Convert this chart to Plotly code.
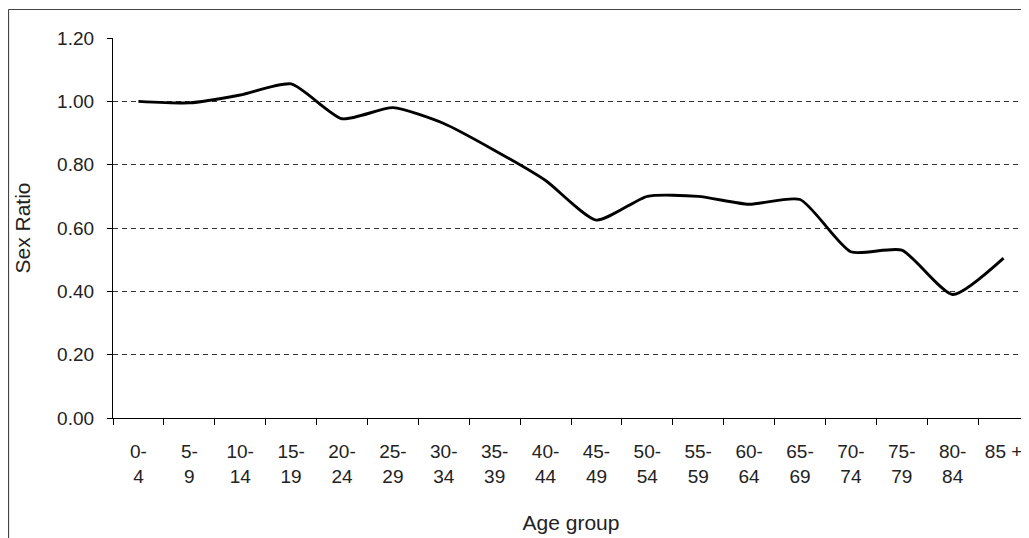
import plotly.graph_objects as go

age_groups = ["0-<br>4", "5-<br>9", "10-<br>14", "15-<br>19", "20-<br>24", "25-<br>29",
              "30-<br>34", "35-<br>39", "40-<br>44", "45-<br>49", "50-<br>54", "55-<br>59",
              "60-<br>64", "65-<br>69", "70-<br>74", "75-<br>79", "80-<br>84", "85 +"]
sex_ratio = [1.00, 0.995, 1.02, 1.055, 0.945, 0.98, 0.93, 0.845, 0.75, 0.625,
             0.70, 0.70, 0.675, 0.69, 0.525, 0.53, 0.39, 0.505]
y_ticks = [0.0, 0.2, 0.4, 0.6, 0.8, 1.0, 1.2]

font_family = "Liberation Sans, Arial, sans-serif"
text_color = "#222222"

# page body has an 8px margin, so the figure is placed 8px in from the window edge
L, R, T, B = 105, 0, 30, 120
W, H = 1021, 530
pw, ph = W - L - R, H - T - B

fig = go.Figure()
fig.add_trace(go.Scatter(
    x=age_groups, y=sex_ratio, mode="lines",
    line=dict(color="black", width=2.9, shape="spline", smoothing=0.6),
    hoverinfo="skip", showlegend=False,
))

bx = (0.5 - L) / pw
by = (H - B - 1.5) / ph
fig.update_layout(
    width=W, height=H,
    margin=dict(l=L, r=R, t=T, b=B, autoexpand=False),
    paper_bgcolor="white", plot_bgcolor="white",
    font=dict(family=font_family, size=19, color=text_color),
    showlegend=False,
    shapes=[
        dict(type="line", xref="paper", yref="paper", x0=bx, x1=bx,
             y0=-2, y1=by, line=dict(color="#444444", width=1.2)),
        dict(type="line", xref="paper", yref="paper", x0=bx, x1=2,
             y0=by, y1=by, line=dict(color="#444444", width=1.2)),
    ],
)

fig.update_xaxes(
    type="category", tickson="boundaries",
    range=[-0.5, len(age_groups) - 0.5],
    showline=True, linecolor="black", linewidth=1.3,
    ticks="outside", ticklen=6, tickcolor="black", tickwidth=1.3,
    showgrid=False, zeroline=False, automargin=False,
    tickfont=dict(size=19, color=text_color),
    ticklabelstandoff=16,
    title=dict(text="Age group", font=dict(size=21, color=text_color), standoff=29),
)
fig.update_yaxes(
    range=[0, 1.2], tickvals=y_ticks, tickformat=".2f",
    showline=True, linecolor="black", linewidth=1.3,
    ticks="outside", ticklen=5, tickcolor="black", tickwidth=1.3,
    showgrid=True, gridcolor="#333333", gridwidth=1.1, griddash="5px,4px",
    zeroline=False, automargin=False,
    tickfont=dict(size=19, color=text_color),
    ticklabelstandoff=9,
    title=dict(text="Sex Ratio", font=dict(size=21, color=text_color), standoff=20),
)

fig.write_html("out.html")
